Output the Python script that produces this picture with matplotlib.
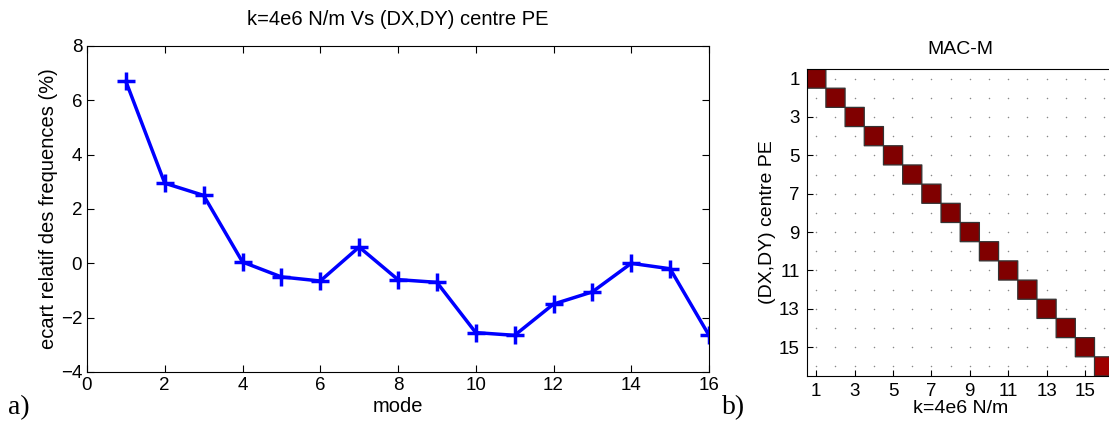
import numpy as np
import matplotlib
matplotlib.use("Agg")
import matplotlib.pyplot as plt

plt.rcParams['font.family'] = ['Liberation Sans', 'DejaVu Sans']

# relative frequency gap per mode
modes = list(range(1, 17))
ecart = [6.7, 2.95, 2.5, 0.05, -0.5, -0.65, 0.6, -0.6, -0.7,
         -2.55, -2.65, -1.5, -1.05, 0.0, -0.2, -2.65]

# MAC diagonal values (off-diagonal ~ 0)
mac_diag = [1.0, 1.0, 1.0, 1.0, 1.0, 1.0, 1.0, 1.0,
            1.0, 1.0, 1.0, 1.0, 1.0, 1.0, 1.0, 0.97]
mac_ticks = [1, 3, 5, 7, 9, 11, 13, 15]

fig = plt.figure(figsize=(11.09, 4.21), dpi=100)

# --- a) ---
ax = fig.add_axes([87 / 1109, 1 - 372 / 421, 622 / 1109, 326 / 421])
ax.plot(modes, ecart, color="#0000ff", linewidth=2.5, marker="+",
        markersize=13, markeredgewidth=2.5)
ax.set_xlim(0, 16)
ax.set_ylim(-4, 8)
ax.set_xticks(range(0, 17, 2))
ax.set_yticks(range(-4, 9, 2))
ax.tick_params(direction="in", top=True, right=True, labelsize=13.5, length=5)
for s in ax.spines.values():
    s.set_linewidth(0.8)
ax.set_title("k=4e6 N/m Vs (DX,DY) centre PE", fontsize=14.5, pad=15)
ax.set_xlabel("mode", fontsize=14.5, labelpad=2)
ax.set_ylabel("ecart relatif des frequences (%)", fontsize=14.5, labelpad=2)

# --- b) ---
n = len(mac_diag)
mac = np.ma.masked_equal(np.diag(mac_diag), 0)
ax2 = fig.add_axes([806.7 / 1109, 1 - 376 / 421, 307 / 1109, 307 / 421])
edges = np.arange(0.5, n + 1.5)
gx, gy = np.meshgrid(np.arange(1, n + 1), np.arange(1, n + 1))
ax2.scatter(gx.ravel(), gy.ravel(), s=1.2, color="#888888", zorder=1,
            linewidths=0)
ax2.pcolor(edges, edges, mac, cmap="jet", vmin=0, vmax=1,
           edgecolor="#333333", linewidth=0.9, zorder=2)
ax2.set_xlim(0.5, n + 0.5)
ax2.set_ylim(n + 0.5, 0.5)
ax2.set_xticks(mac_ticks)
ax2.set_yticks(mac_ticks)
ax2.tick_params(direction="in", labelsize=13.5, length=4, pad=5)
for s in ax2.spines.values():
    s.set_linewidth(0.8)
ax2.set_title("MAC-M", fontsize=14, pad=11)
ax2.set_xlabel("k=4e6 N/m", fontsize=14, labelpad=0)
ax2.set_ylabel("(DX,DY) centre PE", fontsize=14, labelpad=2)

fig.text(8 / 1109, 1 - 408 / 421, "a)", family="Liberation Serif",
         fontsize=20, va="center")
fig.text(722 / 1109, 1 - 408 / 421, "b)", family="Liberation Serif",
         fontsize=20, va="center")

fig.savefig("out.png", dpi=100)
